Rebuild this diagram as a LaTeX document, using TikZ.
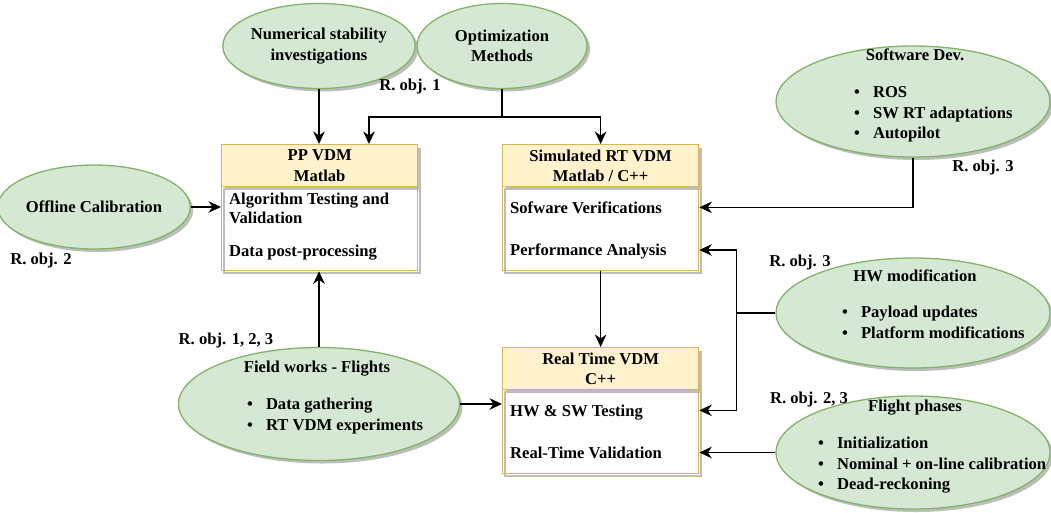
\documentclass[tikz,border=0pt]{standalone}
\usepackage{fontspec}
\setmainfont{Liberation Serif}
\usetikzlibrary{arrows.meta,shapes.geometric,shadows,calc}
\definecolor{gfill}{HTML}{D5E8D4}
\definecolor{gline}{HTML}{82B366}
\definecolor{yfill}{HTML}{FFF2CC}
\definecolor{yline}{HTML}{D6B656}
\definecolor{shade}{HTML}{BDBDBD}
\begin{document}
\begin{tikzpicture}[x=1pt,y=-1pt,
  font=\fontsize{16.6}{20.6}\selectfont\bfseries,
  oval/.style={ellipse, draw=gline, fill=gfill, line width=1.3pt, inner sep=0pt, align=center,
    drop shadow={shadow xshift=3pt, shadow yshift=-3pt, fill=shade, opacity=1}},
  hdr/.style={rectangle, draw=yline, fill=yfill, line width=1.3pt, inner sep=0pt,
    minimum width=196pt, minimum height=42pt, align=center, anchor=north west,
    drop shadow={shadow xshift=3pt, shadow yshift=-3pt, fill=shade, opacity=1}},
  bodyb/.style={rectangle, draw=yline, line width=1.3pt, inner sep=0pt,
    minimum width=196pt, minimum height=84pt, anchor=north west},
  bshadow/.style={draw=shade, line width=1.3pt},
  txt/.style={inner sep=0pt, anchor=base},
  lft/.style={inner sep=0pt, anchor=base west},
  arr/.style={-{Stealth[length=12.5pt,width=11.5pt,inset=4pt]}, line width=1.5pt, black},
  wire/.style={line width=1.5pt, black}]

\useasboundingbox (0,0) rectangle (1051,512);

% --- green ovals ---
\node[oval, minimum width=170pt, minimum height=85pt] (num) at (319,46) {Numerical stability\\investigations};
\node[oval, minimum width=170pt, minimum height=85pt] (opt) at (502,46) {Optimization\\Methods};
\node[oval, minimum width=171pt, minimum height=84pt] (off) at (94,207) {Offline Calibration};
\node[oval, minimum width=281pt, minimum height=113pt] (field) at (319,404) {};
\node[oval, minimum width=274pt, minimum height=111pt] (sw) at (913,101.5) {};
\node[oval, minimum width=274pt, minimum height=110pt] (hw) at (913,313) {};
\node[oval, minimum width=274pt, minimum height=113pt] (fp) at (913,452.5) {};

% oval contents
\node[txt] (field-t) at (317,372.5) {Field works - Flights};
\node[lft] (field-l) at (247,409.5) {\begin{tabular}[t]{@{}l@{\hspace{13pt}}l@{}}\textbullet & Data gathering\\ \textbullet & RT VDM experiments\end{tabular}};
\node[txt] (sw-t) at (915,60.5) {Software Dev.};
\node[lft] (sw-l) at (854,97.5) {\begin{tabular}[t]{@{}l@{\hspace{13pt}}l@{}}\textbullet & ROS\\ \textbullet & SW RT adaptations\\ \textbullet & Autopilot\end{tabular}};
\node[txt] (hw-t) at (915,281.5) {HW modification};
\node[lft] (hw-l) at (842,317.5) {\begin{tabular}[t]{@{}l@{\hspace{13pt}}l@{}}\textbullet & Payload updates\\ \textbullet & Platform modifications\end{tabular}};
\node[txt] (fp-t) at (915,411.5) {Flight phases};
\node[lft] (fp-l) at (818,448.5) {\begin{tabular}[t]{@{}l@{\hspace{13pt}}l@{}}\textbullet & Initialization\\ \textbullet & Nominal + on-line calibration\\ \textbullet & Dead-reckoning\end{tabular}};

% --- yellow boxes: shadows of the open bodies ---
\draw[bshadow] (224,189) rectangle (420,273);
\draw[bshadow] (505,189) rectangle (701,273);
\draw[bshadow] (505,392) rectangle (701,476);

\node[hdr] (pp-h) at (221,144) {PP VDM\\Matlab};
\node[bodyb] (pp-b) at (221,186) {};
\node[hdr] (sim-h) at (502,144) {Simulated RT VDM\\Matlab / C++};
\node[bodyb] (sim-b) at (502,186) {};
\node[hdr] (rt-h) at (502,347) {Real Time VDM\\C++};
\node[bodyb] (rt-b) at (502,389) {};

% box contents
\node[lft] (pp-1) at (229,204.5) {Algorithm Testing and};
\node[lft] (pp-2) at (229,223.5) {Validation};
\node[lft] (pp-3) at (229,256.5) {Data post-processing};
\node[lft] (sim-1) at (510,213.5) {Sofware Verifications};
\node[lft] (sim-2) at (510,255.5) {Performance Analysis};
\node[lft] (rt-1) at (510,416.5) {HW \& SW Testing};
\node[lft] (rt-2) at (510,458.5) {Real-Time Validation};

% --- labels ---
\node[txt] (r1) at (410,90) {R. obj. 1};
\node[txt] (r2) at (41,264) {R. obj. 2};
\node[txt] (r123) at (226,344) {R. obj. 1, 2, 3};
\node[txt] (r3a) at (983,171) {R. obj. 3};
\node[txt] (r3b) at (800,266) {R. obj. 3};
\node[txt] (r23) at (809,403) {R. obj. 2, 3};

% --- connectors ---
\draw[arr] (num.south) -- (num.south |- pp-h.north);
\draw[wire] (opt.south) -- ++(0,28) coordinate (oj);
\draw[arr] (oj) -| ($(pp-h.north)!0.5!(pp-h.north east)$);
\draw[arr] (oj) -| (sim-h.north);
\draw[arr] (off.east) -- (off.east -| pp-b.west);
\draw[arr] (field.north) -- (field.north |- pp-b.south);
\draw[arr] (field.east) -- (field.east -| rt-b.west);
\draw[arr] (sw.south) |- ($(sim-b.north east)!0.25!(sim-b.south east)$);
\draw[wire] (hw.west) -- ++(-39,0) coordinate (hx);
\draw[arr] (hx) |- ($(sim-b.north east)!0.75!(sim-b.south east)$);
\draw[arr] (hx) |- ($(rt-b.north east)!0.25!(rt-b.south east)$);
\draw[arr] (fp.west) -- (fp.west -| rt-b.east);
\draw[arr] (sim-b.south) -- (rt-h.north);
\end{tikzpicture}
\end{document}
